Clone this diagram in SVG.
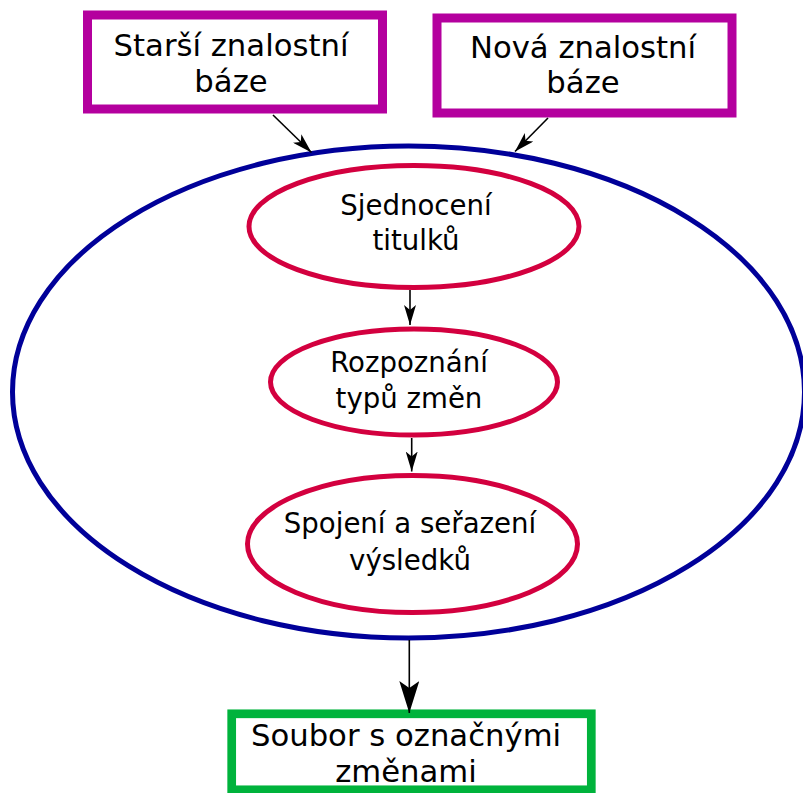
<svg xmlns="http://www.w3.org/2000/svg" width="803" height="793" viewBox="0 0 803 793">
<defs>
<style>
.t{font-family:"DejaVu Sans","Liberation Sans",sans-serif;fill:#000;text-anchor:middle}
.big{font-size:30.7px}
.mid{font-size:27.6px}
.box{fill:#fff;stroke:#b4009e;stroke-width:9}
.step{fill:#fff;stroke:#d3003f;stroke-width:5}
.edge{stroke:#000;stroke-width:1.6;fill:none}
</style>
<marker id="ah" viewBox="0 0 20 12" refX="20" refY="6" markerWidth="20" markerHeight="12" markerUnits="userSpaceOnUse" orient="auto">
<path d="M0,0 L20,6 L0,12 L5,6 Z" fill="#000"/>
</marker>
<marker id="ahb" viewBox="0 0 32 20" refX="32" refY="10" markerWidth="32" markerHeight="20" markerUnits="userSpaceOnUse" orient="auto">
<path d="M0,0 L32,10 L0,20 L7,10 Z" fill="#000"/>
</marker>
</defs>
<rect width="803" height="793" fill="#fff"/>
<g id="proces">
<ellipse cx="408.5" cy="392" rx="396" ry="246" fill="#fff" stroke="#000099" stroke-width="5"/>
</g>
<g id="stara">
<rect class="box" x="87.5" y="15" width="295" height="94"/>
<text class="t big" x="231" y="56">Starší znalostní</text>
<text class="t big" x="231" y="92">báze</text>
</g>
<g id="nova">
<rect class="box" x="437" y="18" width="295" height="95"/>
<text class="t big" x="583" y="58">Nová znalostní</text>
<text class="t big" x="583" y="93">báze</text>
</g>
<g id="sjednoceni">
<ellipse class="step" cx="414" cy="226.5" rx="165" ry="61"/>
<text class="t mid" x="416" y="215">Sjednocení</text>
<text class="t mid" x="416" y="250">titulků</text>
</g>
<g id="rozpoznani">
<ellipse class="step" cx="414" cy="382" rx="143.5" ry="53"/>
<text class="t mid" x="409" y="371.5">Rozpoznání</text>
<text class="t mid" x="409" y="408">typů změn</text>
</g>
<g id="spojeni">
<ellipse class="step" cx="412.5" cy="544" rx="165" ry="68.5"/>
<text class="t mid" x="410" y="533">Spojení a seřazení</text>
<text class="t mid" x="410" y="570">výsledků</text>
</g>
<g id="soubor">
<rect x="231.7" y="713.8" width="359.6" height="76" fill="#fff" stroke="#00b33c" stroke-width="8.7"/>
<text class="t big" x="406" y="746">Soubor s označnými</text>
<text class="t big" x="406" y="782">změnami</text>
</g>
<g id="connectors">
<line class="edge" x1="273" y1="115" x2="311.5" y2="152.5" marker-end="url(#ah)"/>
<line class="edge" x1="548" y1="118" x2="515" y2="151.5" marker-end="url(#ah)"/>
<line class="edge" x1="410" y1="290" x2="410" y2="325" marker-end="url(#ah)"/>
<line class="edge" x1="411.7" y1="438" x2="411.7" y2="471.5" marker-end="url(#ah)"/>
<line class="edge" x1="409.3" y1="640" x2="409.3" y2="713" marker-end="url(#ahb)"/>
</g>
</svg>
